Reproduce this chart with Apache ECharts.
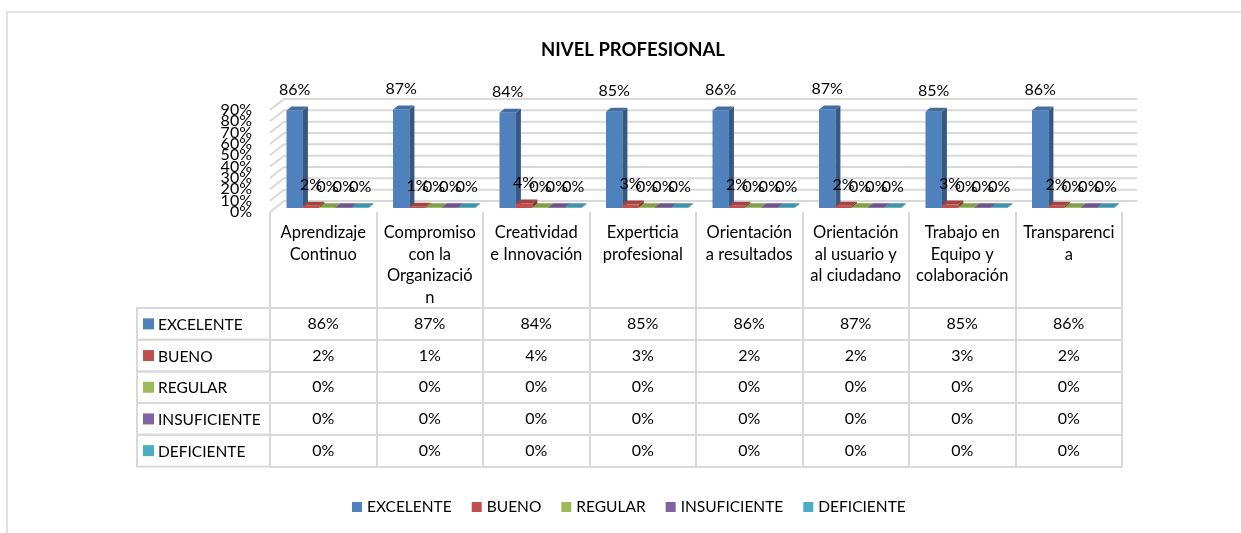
<!DOCTYPE html>
<html>
<head>
<meta charset="utf-8">
<script src="https://cdn.jsdelivr.net/npm/echarts@6/dist/echarts.min.js"></script>
<style>
html,body{margin:0;padding:0;background:#fff;}
#chart{width:1241px;height:533px;}
</style>
</head>
<body>
<div id="chart"></div>
<script>
// ---- data ----
const categories = [
  'Aprendizaje\nContinuo',
  'Compromiso\ncon la\nOrganizació\nn',
  'Creatividad\ne Innovación',
  'Experticia\nprofesional',
  'Orientación\na resultados',
  'Orientación\nal usuario y\nal ciudadano',
  'Trabajo en\nEquipo y\ncolaboración',
  'Transparenci\na'
];
const seriesNames = ['EXCELENTE', 'BUENO', 'REGULAR', 'INSUFICIENTE', 'DEFICIENTE'];
const excelente    = [0.86, 0.87, 0.84, 0.85, 0.86, 0.87, 0.85, 0.86];
const bueno        = [0.02, 0.01, 0.04, 0.03, 0.02, 0.02, 0.03, 0.02];
const regular      = [0, 0, 0, 0, 0, 0, 0, 0];
const insuficiente = [0, 0, 0, 0, 0, 0, 0, 0];
const deficiente   = [0, 0, 0, 0, 0, 0, 0, 0];
const yTicks = [0, 0.1, 0.2, 0.3, 0.4, 0.5, 0.6, 0.7, 0.8, 0.9];
const title = 'NIVEL PROFESIONAL';

// ---- styling / layout ----
const seriesValues = [excelente, bueno, regular, insuficiente, deficiente];
const colors = ['#4f81bd', '#c0504d', '#9bbb59', '#8064a2', '#4bacc6'];
const FONT = 'Lato, "Liberation Sans", sans-serif';
const FS = 16;
const GRID = { left: 270, right: 119, top: 110, bottom: 321 };
const HEADER_H = 96;
const ROW_H = 31.7;
const LEFT_COL_X = 137;
const GRAY = '#d9d9d9';
const WALL_DX = 14, WALL_DY = 11;
const BAR_DX = 5, BAR_DY = 4, BAR_SHIFT = 4;

const pct = v => Math.round(v * 100) + '%';

function shade(hex, f) {
  const n = parseInt(hex.slice(1), 16);
  const r = Math.round(((n >> 16) & 255) * f);
  const g = Math.round(((n >> 8) & 255) * f);
  const b = Math.round((n & 255) * f);
  return 'rgb(' + r + ',' + g + ',' + b + ')';
}

function barRenderer(s) {
  return function (params, api) {
    const idx = api.value(0);
    const v = api.value(1);
    const base = api.coord([idx, 0]);
    const top = api.coord([idx, v]);
    const band = api.size([1, 0])[0];
    const w = band * 0.154;
    const x = base[0] - band * 0.345 + s * w;
    const yb = base[1] - BAR_SHIFT;
    let yt = top[1] - BAR_SHIFT;
    if (yb - yt < 0.8) yt = yb - 0.8;
    const c = colors[s];
    return {
      type: 'group',
      children: [
        { type: 'rect', shape: { x: x, y: yt, width: w, height: yb - yt }, style: { fill: c } },
        { type: 'polygon', shape: { points: [[x + w, yt], [x + w + BAR_DX, yt - BAR_DY], [x + w + BAR_DX, yb - BAR_DY], [x + w, yb]] }, style: { fill: shade(c, 0.68) } },
        { type: 'polygon', shape: { points: [[x, yt], [x + w, yt], [x + w + BAR_DX, yt - BAR_DY], [x + BAR_DX, yt - BAR_DY]] }, style: { fill: shade(c, 0.85) } },
        { type: 'text', z2: 10, style: { x: x + w / 2, y: top[1] - BAR_SHIFT - 21, text: pct(v), align: 'center', verticalAlign: 'middle', fill: '#000', font: FS + 'px ' + FONT } }
      ]
    };
  };
}

// back wall gridlines + (overlapping) y tick labels on the front plane
function wallRenderer(params, api) {
  const v = api.value(1);
  const p = api.coord([0, v]);
  const cs = params.coordSys;
  return {
    type: 'group',
    children: [
      {
        type: 'polyline',
        shape: { points: [[cs.x, p[1]], [cs.x + WALL_DX, p[1] - WALL_DY], [cs.x + cs.width + WALL_DX + 1, p[1] - WALL_DY]] },
        style: { stroke: GRAY, lineWidth: 2, fill: null }
      },
      {
        type: 'text',
        style: { x: cs.x - 18, y: p[1], text: pct(v), align: 'right', verticalAlign: 'middle', fill: '#000', font: FS + 'px ' + FONT }
      }
    ]
  };
}

// table axes
const xAxes = [{
  type: 'category', data: categories, gridIndex: 0, position: 'bottom',
  axisLine: { show: false },
  axisTick: { show: true, alignWithLabel: false, interval: 0, length: HEADER_H, lineStyle: { color: GRAY, width: 2 } },
  axisLabel: { interval: 0, margin: 10, fontSize: 16.5, lineHeight: 21.5, color: '#000', fontFamily: FONT, verticalAlign: 'top' }
}];
seriesValues.forEach((vals, k) => {
  xAxes.push({
    type: 'category', data: categories, gridIndex: 0, position: 'bottom',
    offset: HEADER_H + k * ROW_H,
    axisLine: { show: true, lineStyle: { color: GRAY, width: 2 } },
    axisTick: { show: true, alignWithLabel: false, interval: 0, length: ROW_H, lineStyle: { color: GRAY, width: 2 } },
    axisLabel: { interval: 0, margin: ROW_H / 2, fontSize: FS, color: '#000', fontFamily: FONT, verticalAlign: 'middle', formatter: (val, i) => pct(vals[i]) }
  });
});
xAxes.push({
  type: 'category', data: categories, gridIndex: 0, position: 'bottom',
  offset: HEADER_H + seriesValues.length * ROW_H,
  axisLine: { show: true, lineStyle: { color: GRAY, width: 2 } },
  axisTick: { show: false }, axisLabel: { show: false }
});

// left column of the data table
const graphics = [{
  type: 'rect', shape: { x: 7, y: 12, width: 1400, height: 700 },
  style: { fill: null, stroke: GRAY, lineWidth: 1.5 }, z: -1
}];
const tableTop = 533 - GRID.bottom + HEADER_H;
seriesNames.forEach((name, k) => {
  const y = tableTop + k * ROW_H;
  graphics.push({ type: 'rect', shape: { x: LEFT_COL_X, y: y, width: GRID.left - LEFT_COL_X, height: ROW_H }, style: { fill: null, stroke: GRAY, lineWidth: 2 } });
  graphics.push({ type: 'rect', shape: { x: 143, y: y + ROW_H / 2 - 5.5, width: 11, height: 11 }, style: { fill: colors[k] } });
  graphics.push({ type: 'text', style: { x: 158, y: y + ROW_H / 2 + 1, text: name, verticalAlign: 'middle', fill: '#000', font: '15.5px ' + FONT } });
});

const series = [{
  type: 'custom', name: '_walls', renderItem: wallRenderer, z: 1, silent: true,
  data: yTicks.map(v => [0, v]), encode: { x: 0, y: 1 }
}];
seriesValues.forEach((vals, s) => {
  series.push({
    type: 'custom', name: seriesNames[s], renderItem: barRenderer(s), z: 2 + s,
    itemStyle: { color: colors[s] },
    data: vals.map((v, i) => [i, v]), encode: { x: 0, y: 1 }
  });
});

const chart = echarts.init(document.getElementById('chart'), null, { renderer: 'canvas' });
chart.setOption({
  animation: false,
  backgroundColor: '#fff',
  title: { text: title, left: 628, top: 36, textAlign: 'center', textStyle: { fontSize: 18.5, fontWeight: 'bold', color: '#000', fontFamily: FONT } },
  legend: {
    data: seriesNames, top: 494, left: 347, icon: 'rect', itemWidth: 10, itemHeight: 10, itemGap: 20, itemTextGap: 4,
    textStyle: { fontSize: 15.5, color: '#000', fontFamily: FONT }
  },
  grid: { left: GRID.left, right: GRID.right, top: GRID.top, bottom: GRID.bottom },
  xAxis: xAxes,
  yAxis: {
    type: 'value', min: 0, max: 0.9, interval: 0.1,
    axisLine: { show: false }, axisTick: { show: false }, splitLine: { show: false },
    axisLabel: { show: false }
  },
  graphic: graphics,
  series: series
});
</script>
</body>
</html>
